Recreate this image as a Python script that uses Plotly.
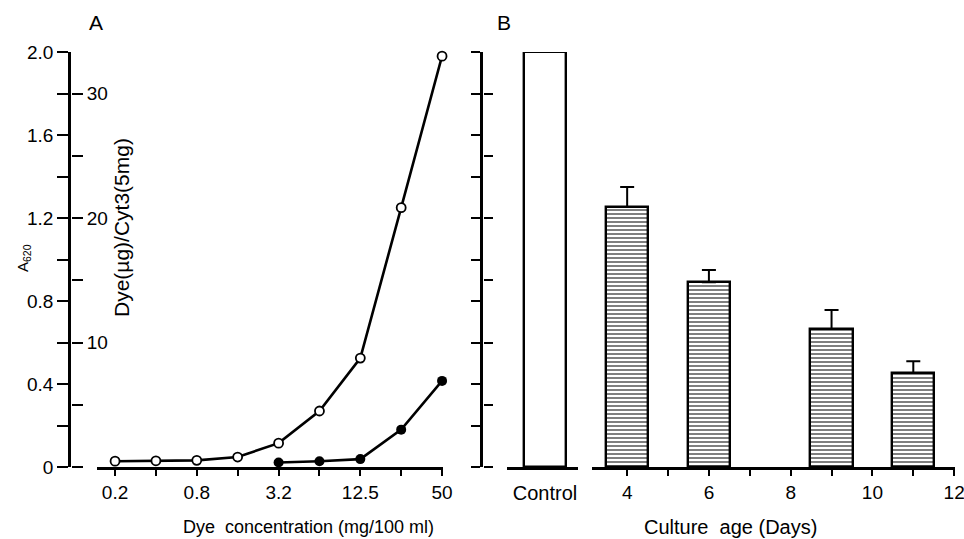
import plotly.graph_objects as go

W, H = 964, 539

# ---- data ----
conc = [0.195, 0.39, 0.78, 1.56, 3.125, 6.25, 12.5, 25, 50]
conc_ticktext = ["0.2", "", "0.8", "", "3.2", "", "12.5", "", "50"]
open_vals = [0.028, 0.030, 0.032, 0.048, 0.115, 0.27, 0.525, 1.25, 1.98]
filled_conc = [3.125, 6.25, 12.5, 25, 50]
filled_vals = [0.022, 0.028, 0.038, 0.18, 0.415]

control_val = [2.0]
days = [4, 6, 9, 11]
day_vals = [1.253, 0.89, 0.665, 0.453]
day_err = [0.097, 0.06, 0.092, 0.057]
day_ticks = [4, 5, 6, 7, 8, 9, 10, 11, 12]
day_ticktext = ["4", "", "6", "", "8", "", "10", "", "12"]

a_ticks = [0, 0.2, 0.4, 0.6, 0.8, 1.0, 1.2, 1.4, 1.6, 1.8, 2.0]
a_ticktext = ["0", "", "0.4", "", "0.8", "", "1.2", "", "1.6", "", "2.0"]
dye_ticks = [0, 5, 10, 15, 20, 25, 30]
dye_ticktext = ["", "", "10", "", "20", "", "30"]


def px(x):
    return x / W


def py(y):
    return 1 - y / H


FONT = "Liberation Sans, Arial, sans-serif"
ydom = [py(467), py(52)]

fig = go.Figure()

# Panel A curves
fig.add_trace(go.Scatter(x=conc, y=open_vals, mode="lines+markers", xaxis="x", yaxis="y",
                         line=dict(color="black", width=2.6),
                         marker=dict(symbol="circle", size=9, color="white",
                                     line=dict(color="black", width=1.8)),
                         showlegend=False, cliponaxis=False))
fig.add_trace(go.Scatter(x=filled_conc, y=filled_vals, mode="lines+markers", xaxis="x", yaxis="y",
                         line=dict(color="black", width=2.6),
                         marker=dict(symbol="circle", size=10, color="black"),
                         showlegend=False, cliponaxis=False))

# Panel B bars
fig.add_trace(go.Bar(x=[0], y=control_val, xaxis="x2", yaxis="y3", width=0.59,
                     marker=dict(color="white", line=dict(color="black", width=2.4)),
                     showlegend=False))
fig.add_trace(go.Bar(x=days, y=day_vals, xaxis="x3", yaxis="y3", width=1.03,
                     marker=dict(color="white", line=dict(color="black", width=2.4),
                                 pattern=dict(shape="-", fgcolor="black", bgcolor="white",
                                              size=4, solidity=0.5)),
                     error_y=dict(type="data", symmetric=False, array=day_err,
                                  arrayminus=[0] * len(day_err), color="black",
                                  thickness=2, width=7),
                     showlegend=False))

# empty carrier traces so that each scale gets its own subplot (axis placement)
for xa, ya in [("x4", "y"), ("x5", "y2"), ("x6", "y3"), ("x7", "y4")]:
    fig.add_trace(go.Scatter(x=[], y=[], xaxis=xa, yaxis=ya, mode="markers",
                             showlegend=False, hoverinfo="skip"))

TF = dict(family=FONT, size=19, color="black")
axis_common = dict(showline=True, linecolor="black", linewidth=2.5, showgrid=False,
                   zeroline=False, ticks="outside", tickcolor="black", tickwidth=2,
                   automargin=False, tickfont=TF, ticklabeloverflow="allow")
axis_nolab = {k: v for k, v in axis_common.items() if k != "tickfont"}
hidden = dict(showline=False, showgrid=False, zeroline=False, ticks="",
              showticklabels=False, range=[0, 1], fixedrange=True)

fig.update_layout(
    width=W, height=H, margin=dict(l=0, r=0, t=0, b=0),
    paper_bgcolor="white", plot_bgcolor="rgba(0,0,0,0)", bargap=0,
    font=dict(family=FONT, color="black"),
    # panel A data x axis
    xaxis=dict(domain=[px(97), px(443)], type="log", range=[-0.843, 1.706], anchor="y",
               tickmode="array", tickvals=conc, ticktext=conc_ticktext, ticklen=6, **axis_common),
    # panel A left scale (A620)
    yaxis=dict(domain=ydom, range=[0, 2.0], anchor="x4", side="left",
               tickmode="array", tickvals=a_ticks, ticktext=a_ticktext, ticklen=11, **axis_common),
    # panel A right-hand scale (Dye µg) at the same x position (ticks only)
    yaxis2=dict(domain=ydom, range=[0, 2.0 * 50 / 3], anchor="x5", side="right",
                tickmode="array", tickvals=dye_ticks, ticktext=dye_ticktext,
                ticklen=11, **{**axis_common, "showline": False}),
    # panel B x axes
    xaxis2=dict(domain=[px(507), px(578)], range=[-0.535, 0.465], anchor="y3",
                tickmode="array", tickvals=[0], ticktext=["Control"], ticklen=6,
                **{**axis_common, "tickcolor": "rgba(0,0,0,0)",
                   "tickfont": dict(family=FONT, size=20, color="black")}),
    xaxis3=dict(domain=[px(592), px(955)], range=[3.14, 12.02], anchor="y3",
                tickmode="array", tickvals=day_ticks, ticktext=day_ticktext, ticklen=6,
                **axis_common),
    # panel B y scales
    yaxis3=dict(domain=ydom, range=[0, 2.0], anchor="x6", side="left",
                tickmode="array", tickvals=a_ticks, showticklabels=False, ticklen=9,
                **axis_nolab),
    yaxis4=dict(domain=ydom, range=[0, 2.0 * 50 / 3], anchor="x7", side="right",
                tickmode="array", tickvals=dye_ticks, showticklabels=False,
                ticklen=9, **{**axis_nolab, "showline": False}),
    # hidden anchor axes
    xaxis4=dict(domain=[px(71), px(90)], anchor="y", **hidden),
    xaxis5=dict(domain=[px(50), px(71)], anchor="y2", **hidden),
    xaxis6=dict(domain=[px(483), px(500)], anchor="y3", **hidden),
    xaxis7=dict(domain=[px(460), px(483)], anchor="y4", **hidden),
)

ann = [
    dict(x=px(96), y=py(23), text="A", font=dict(size=21)),
    dict(x=px(504), y=py(23), text="B", font=dict(size=21)),
    dict(x=px(23), y=py(258), text="A<sub>620</sub>", textangle=-90, font=dict(size=15)),
    dict(x=px(121), y=py(228), text="Dye(µg)/Cyt3(5mg)", textangle=-90, font=dict(size=21)),
    dict(x=px(308), y=py(527), text="Dye  concentration (mg/100 ml)", font=dict(size=18)),
    dict(x=px(730), y=py(527), text="Culture  age (Days)", font=dict(size=20)),
]
for a in ann:
    fig.add_annotation(xref="paper", yref="paper", showarrow=False,
                       xanchor="center", yanchor="middle",
                       **{**a, "font": dict(family=FONT, color="black", **a["font"])})

fig.write_html("out.html")
